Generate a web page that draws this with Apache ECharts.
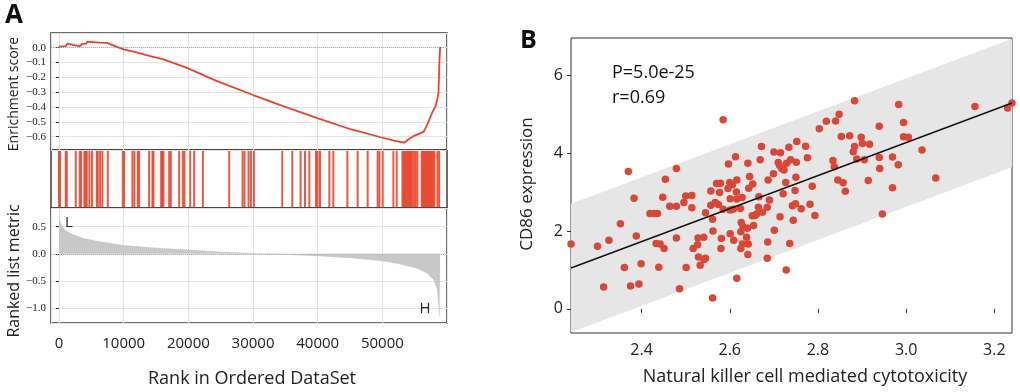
<!DOCTYPE html>
<html><head><meta charset="utf-8">
<script src="https://cdn.jsdelivr.net/npm/echarts@6/dist/echarts.min.js"></script>
<style>html,body{margin:0;padding:0;background:#fff}#c{width:1020px;height:392px}</style>
</head><body><div id="c"></div>
<script>
// ---------- Panel A data ----------
const esRank  = [0,1085,1290,3254,3512,4184,4390,5320,6353,7386,9968,11518,14100,16166,19782,24430,30112,34760,39925,45090,49738,51804,53354,54074,54848,55500,56396,56912,57686,58205,58468,58673,58828,58932];
const esScore = [0.007,0.011,0.027,0.009,0.025,0.027,0.041,0.038,0.034,0.032,-0.011,-0.027,-0.057,-0.079,-0.136,-0.226,-0.321,-0.396,-0.475,-0.550,-0.604,-0.627,-0.641,-0.618,-0.595,-0.585,-0.566,-0.521,-0.439,-0.396,-0.351,-0.306,-0.079,0.005];
const hitRanks = [0,155,1037,1192,2585,3204,3406,3916,4133,4288,4690,5108,5836,5991,6347,6703,7539,9861,10062,11347,11656,12183,12384,13932,14443,14598,15790,15991,16146,17028,17291,18576,19149,19396,20279,20898,22245,26316,28375,28684,29303,29675,30139,34520,36068,37353,38034,38700,39737,39985,40356,41796,42415,44582,46176,47724,49272,49535,50046,51703,52213,53100,53250,53400,53550,53700,53850,54000,54150,54300,54450,54640,54908,55155,55418,56084,56200,56350,56500,56650,56800,56950,57100,57250,57400,57550,57700,57850,58050,58514,58777];
const metricRank  = [0,155,671,1188,2221,3770,6353,9968,14100,20092,24947,30112,34760,40029,45090,50000,52838,55420,56970,58003,58519,58829,58933];
const metricValue = [0.70,0.59,0.47,0.41,0.35,0.28,0.22,0.154,0.111,0.068,0.031,0.006,-0.012,-0.037,-0.074,-0.13,-0.19,-0.27,-0.36,-0.49,-0.67,-1.15,-1.15];
const rankLabels = ['0','10000','20000','30000','40000','50000'];

// ---------- Panel B data ----------
const nkScore = [2.370,2.383,2.585,2.479,2.454,2.448,2.500,2.514,2.579,2.570,2.577,2.557,2.597,2.613,2.600,2.606,2.616,2.596,2.615,2.616,2.628,2.641,2.645,2.652,2.643,2.672,2.669,2.666,2.687,2.699,2.700,2.715,2.710,2.713,2.718,2.723,2.727,2.729,2.738,2.734,2.752,2.751,2.750,2.721,2.748,2.772,2.776,2.787,2.803,2.819,2.840,2.848,2.853,2.872,2.834,2.837,2.845,2.857,2.862,2.883,2.883,2.880,2.888,2.898,2.901,2.917,2.905,2.914,2.939,2.939,2.940,2.969,2.982,2.969,2.983,2.994,2.994,3.005,3.036,3.067,3.156,3.230,3.240,
2.240,2.300,2.314,2.326,2.352,2.361,2.375,2.388,2.394,2.399,2.419,2.429,2.436,2.433,2.442,2.439,2.451,2.464,2.479,2.479,2.486,2.496,2.514,2.501,2.517,2.527,2.528,2.529,2.533,2.541,2.542,2.545,2.545,2.557,2.561,2.562,2.561,2.567,2.574,2.580,2.581,2.585,2.601,2.601,2.608,2.609,2.601,2.624,2.626,2.625,2.625,2.630,2.629,2.638,2.640,2.642,2.641,2.616,2.651,2.654,2.657,2.661,2.665,2.674,2.685,2.690,2.686,2.685,2.701,2.714,2.736,2.728,2.742,2.749,2.744,2.762,2.782,2.793,2.946];
const cd86 = [3.53,2.84,4.86,3.61,3.33,2.87,2.90,2.91,3.23,3.22,2.99,3.03,3.72,3.91,3.25,3.19,3.31,3.09,3.00,2.82,2.86,3.74,3.40,3.21,3.10,4.17,3.83,2.88,3.31,3.47,4.03,4.01,3.76,3.69,3.61,3.57,3.25,3.74,3.83,4.15,4.30,3.77,3.38,2.96,3.04,4.18,3.88,3.15,4.63,4.82,4.83,5.00,4.43,4.45,3.81,3.65,3.31,3.24,3.02,5.35,4.17,4.04,3.85,4.41,4.25,4.23,3.83,3.30,4.69,3.89,3.61,3.90,3.70,3.11,5.25,4.79,4.42,4.41,4.08,3.36,5.20,5.16,5.29,
1.67,1.61,0.56,1.76,2.19,1.06,0.59,1.87,0.64,1.16,2.45,2.45,2.45,1.68,1.67,1.07,1.55,2.64,2.64,1.82,0.52,2.73,2.60,1.06,1.55,1.65,1.82,1.33,1.12,1.84,1.27,1.30,2.47,2.66,2.30,2.00,0.28,2.73,2.68,1.55,1.81,2.56,1.93,2.54,2.56,1.76,2.83,2.58,2.22,1.98,1.55,2.11,1.67,1.84,2.07,1.67,1.40,0.79,2.39,2.14,2.40,2.44,2.61,2.48,2.61,2.80,1.72,1.30,2.02,2.37,1.68,1.00,2.65,2.70,2.28,2.57,2.69,2.40,2.44];
const fitX = [2.24, 3.24];
const fitY = [1.05, 5.29];
const bandLow = [-0.60, 3.64];
const bandHigh = [2.70, 6.94];
const statLines = ['P=5.0e-25', 'r=0.69'];

// ---------- build ----------
const SANS = '"Open Sans", "Noto Sans", sans-serif';
const SERIF = '"Liberation Serif", "DejaVu Serif", serif';
const RED = '#e8442f';
const fmtA = v => { const r = Math.round(v*10)/10; return (r < 0 ? '\u2212' : '') + Math.abs(r).toFixed(1); };

const esData = esRank.map((r,i)=>[r, esScore[i]]);
const hitData = hitRanks.map(r=>[r, 0.5]);
const metData = metricRank.map((r,i)=>[r, metricValue[i]]);
const ptData = nkScore.map((x,i)=>[x, cd86[i]]);
const bandData = fitX.map((x,i)=>[x, bandLow[i], bandHigh[i]]);

const gx = {left:51, width:396};
const frame = {show:true, borderColor:'#3c3c3c', borderWidth:1.5, backgroundColor:'transparent'};
const rankAxisBase = {type:'value', min:-1240, max:59990, splitNumber:6};
const thinGrid = {show:true, lineStyle:{color:'#e4e4e4', width:1}};

const option = {
  animation:false,
  backgroundColor:'#fff',
  grid:[
    Object.assign({top:33, height:117}, gx, frame),
    Object.assign({top:150, height:58}, gx, frame),
    Object.assign({top:208, height:115}, gx, frame),
    {left:571, top:38, width:441, height:295, show:true, borderColor:'#333', borderWidth:1, backgroundColor:'transparent'}
  ],
  xAxis:[
    Object.assign({gridIndex:0, axisLine:{show:false}, axisTick:{show:false}, axisLabel:{show:false}, splitLine:thinGrid}, rankAxisBase),
    Object.assign({gridIndex:1, axisLine:{show:false}, axisTick:{show:false}, axisLabel:{show:false}, splitLine:{show:false}}, rankAxisBase),
    Object.assign({gridIndex:2, axisLine:{show:false}, axisTick:{show:false}, splitLine:thinGrid,
      axisLabel:{showMinLabel:false, showMaxLabel:false, margin:13, fontFamily:SANS, fontSize:15, color:'#222',
        formatter:v=>{const i=[0,10000,20000,30000,40000,50000].indexOf(v); return i>=0?rankLabels[i]:'';}}}, rankAxisBase),
    {type:'value', gridIndex:3, min:2.24, max:3.24, splitNumber:5,
      axisLine:{show:false}, splitLine:{show:false},
      axisTick:{show:true, length:4, lineStyle:{color:'#333'}},
      axisLabel:{showMinLabel:false, showMaxLabel:false, margin:9, fontFamily:SANS, fontSize:16, color:'#222', formatter:v=>v.toFixed(1)}}
  ],
  yAxis:[
    {type:'value', gridIndex:0, min:-0.69, max:0.099, splitNumber:7,
      axisLine:{show:false}, axisTick:{show:true, length:3, lineStyle:{color:'#333'}},
      splitLine:thinGrid,
      axisLabel:{showMinLabel:false, showMaxLabel:false, margin:5, fontFamily:SERIF, fontSize:11, color:'#222', formatter:fmtA}},
    {type:'value', gridIndex:1, min:0, max:1, show:false},
    {type:'value', gridIndex:2, min:-1.28, max:0.846, splitNumber:4,
      axisLine:{show:false}, axisTick:{show:true, length:3, lineStyle:{color:'#333'}},
      splitLine:thinGrid,
      axisLabel:{showMinLabel:false, showMaxLabel:false, margin:5, fontFamily:SERIF, fontSize:11, color:'#222', formatter:fmtA}},
    {type:'value', gridIndex:3, min:-0.62, max:6.96, splitNumber:4,
      axisLine:{show:false}, splitLine:{show:false},
      axisTick:{show:true, length:4, lineStyle:{color:'#333'}},
      axisLabel:{showMinLabel:false, showMaxLabel:false, margin:8, fontFamily:SANS, fontSize:16, color:'#222'}}
  ],
  series:[
    {type:'line', xAxisIndex:0, yAxisIndex:0, data:esData, showSymbol:false, symbol:'none',
      lineStyle:{color:RED, width:1.8}, z:5,
      markLine:{silent:true, symbol:'none', label:{show:false}, lineStyle:{color:'#b0b0b0', type:'dotted', width:1}, data:[{yAxis:0}]}},
    {type:'scatter', xAxisIndex:1, yAxisIndex:1, data:hitData, symbol:'rect', symbolSize:[2,56],
      itemStyle:{color:'#e8472f', opacity:0.9}, z:3},
    {type:'line', xAxisIndex:2, yAxisIndex:2, data:metData, showSymbol:false, symbol:'none',
      lineStyle:{width:0.6, color:'#c4c4c4'}, areaStyle:{color:'#c8c8c8', opacity:1}, z:3,
      markLine:{silent:true, symbol:'none', label:{show:false}, lineStyle:{color:'#b0b0b0', type:'dotted', width:1}, data:[{yAxis:0}]}},
    {type:'custom', xAxisIndex:3, yAxisIndex:3, data:bandData, z:1, silent:true,
      encode:{x:0, y:[1,2]},
      renderItem:(params, api)=>{
        if (params.dataIndex !== 0) return null;
        const lo = bandData.map(d=>api.coord([d[0], d[1]]));
        const hi = bandData.map(d=>api.coord([d[0], d[2]])).reverse();
        return {type:'polygon', shape:{points:lo.concat(hi)}, style:{fill:'#e6e6e6', stroke:null}};
      }},
    {type:'scatter', xAxisIndex:3, yAxisIndex:3, data:ptData, symbolSize:7.5,
      itemStyle:{color:'#da4737', opacity:1}, z:4},
    {type:'line', xAxisIndex:3, yAxisIndex:3, data:[[fitX[0], fitY[0]],[fitX[1], fitY[1]]],
      showSymbol:false, symbol:'none', lineStyle:{color:'#111', width:1.4}, z:5}
  ],
  graphic:[
    {type:'text', z:100, left:5, top:3, style:{text:'A', font:'bold 26px "Open Sans", sans-serif', fill:'#111'}},
    {type:'text', z:100, left:520, top:28, style:{text:'B', font:'bold 25px "Open Sans", sans-serif', fill:'#111'}},
    {type:'text', z:100, x:14, y:94, rotation:Math.PI/2, style:{text:'Enrichment score', font:'14px '+SANS, fill:'#222', align:'center', verticalAlign:'middle'}},
    {type:'text', z:100, x:14, y:271, rotation:Math.PI/2, style:{text:'Ranked list metric', font:'16px '+SANS, fill:'#222', align:'center', verticalAlign:'middle'}},
    {type:'text', z:100, x:252, y:379, style:{text:'Rank in Ordered DataSet', font:'18px '+SANS, fill:'#222', align:'center', verticalAlign:'middle'}},
    {type:'text', z:100, x:69, y:223, style:{text:'L', font:'15px '+SANS, fill:'#222', align:'center', verticalAlign:'middle'}},
    {type:'text', z:100, x:425, y:309, style:{text:'H', font:'15px '+SANS, fill:'#222', align:'center', verticalAlign:'middle'}},
    {type:'text', z:100, x:527, y:184, rotation:Math.PI/2, style:{text:'CD86 expression', font:'17px '+SANS, fill:'#222', align:'center', verticalAlign:'middle'}},
    {type:'text', z:100, x:805, y:377, style:{text:'Natural killer cell mediated cytotoxicity', font:'18px '+SANS, fill:'#222', align:'center', verticalAlign:'middle'}},
    {type:'text', z:100, x:612, y:73, style:{text:statLines[0], font:'18px '+SANS, fill:'#111', align:'left', verticalAlign:'middle'}},
    {type:'text', z:100, x:612, y:98, style:{text:statLines[1], font:'18px '+SANS, fill:'#111', align:'left', verticalAlign:'middle'}}
  ]
};
const chart = echarts.init(document.getElementById('c'), null, {renderer:'canvas'});
chart.setOption(option);
</script></body></html>
